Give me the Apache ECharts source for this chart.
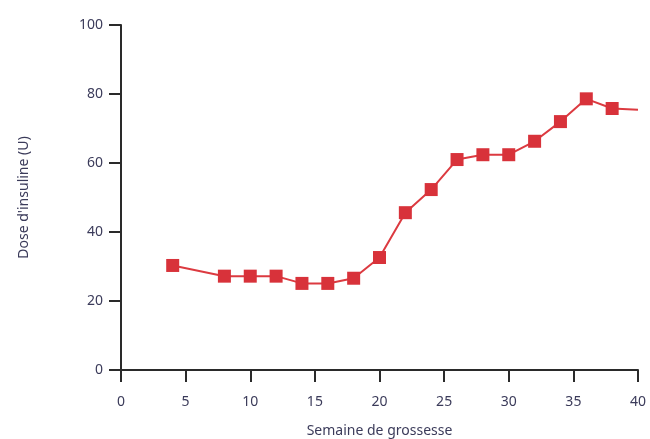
<!DOCTYPE html>
<html><head><meta charset="utf-8">
<script src="https://cdn.jsdelivr.net/npm/echarts@6/dist/echarts.min.js"></script>
<style>html,body{margin:0;padding:0;background:#fff}#c{width:650px;height:439px}</style>
</head><body><div id="c"></div>
<script>
const weeks = [4, 8, 10, 12, 14, 16, 18, 20, 22, 24, 26, 28, 30, 32, 34, 36, 38, 40];
const dose = [30.3, 27.2, 27.2, 27.2, 25.1, 25.1, 26.6, 32.6, 45.6, 52.3, 61, 62.4, 62.4, 66.3, 72, 78.6, 75.8, 75.4];
const xTicks = [0, 5, 10, 15, 20, 25, 30, 35, 40];
const yTicks = [0, 20, 40, 60, 80, 100];
const xName = 'Semaine de grossesse';
const yName = "Dose d'insuline (U)";

const txt = '#3b3b5a';
const font = 'Noto Sans';
const data = weeks.map((w, i) => {
  const d = {value: [w, dose[i]]};
  if (i === weeks.length - 1) d.symbol = 'none';
  return d;
});
const chart = echarts.init(document.getElementById('c'));
chart.setOption({
  animation: false,
  grid: {left: 121, right: 12, top: 25, bottom: 69, outerBoundsMode: 'none', containLabel: false},
  xAxis: {
    type: 'value', min: xTicks[0], max: xTicks[xTicks.length-1], interval: 5,
    name: xName, nameLocation: 'middle', nameGap: 54,
    nameTextStyle: {color: txt, fontFamily: font, fontSize: 14},
    axisLine: {lineStyle: {color: '#2a2a2a', width: 2}},
    axisTick: {show: true, length: 12, lineStyle: {color: '#2a2a2a', width: 2}},
    axisLabel: {color: txt, fontFamily: font, fontSize: 14, margin: 25},
    splitLine: {show: false}
  },
  yAxis: {
    type: 'value', min: yTicks[0], max: yTicks[yTicks.length-1], interval: 20,
    name: yName, nameLocation: 'middle', nameGap: 90,
    nameTextStyle: {color: txt, fontFamily: font, fontSize: 14},
    axisLine: {show: true, lineStyle: {color: '#2a2a2a', width: 2}},
    axisTick: {show: true, length: 12, lineStyle: {color: '#2a2a2a', width: 2}},
    axisLabel: {color: txt, fontFamily: font, fontSize: 14, margin: 18},
    splitLine: {show: false}
  },
  series: [{
    type: 'line', data: data,
    symbol: 'rect', symbolSize: 13,
    lineStyle: {color: '#dc3a40', width: 2},
    itemStyle: {color: '#d8323a'}
  }]
});
</script></body></html>
